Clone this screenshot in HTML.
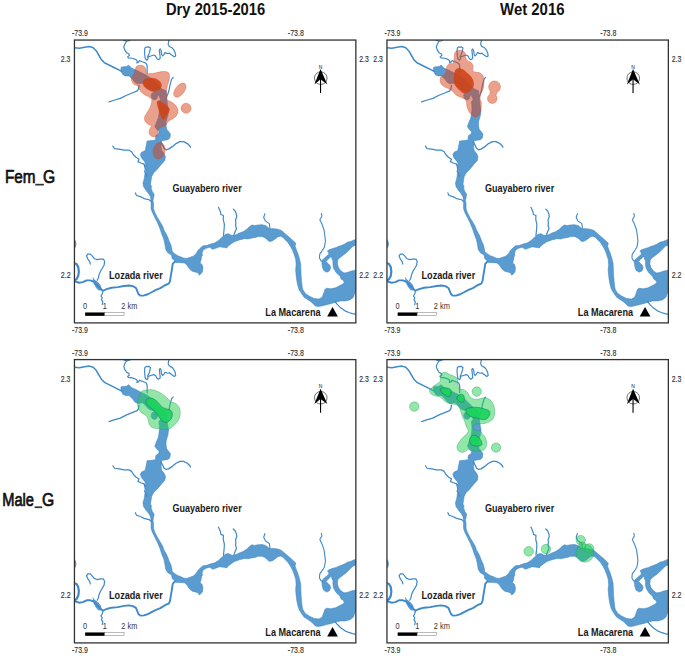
<!DOCTYPE html>
<html><head><meta charset="utf-8"><title>Map figure</title>
<style>
html,body{margin:0;padding:0;background:#fff;}
body{width:685px;height:656px;overflow:hidden;}
svg{display:block;}
text{font-family:"Liberation Sans",sans-serif;}
.title{font-size:16.5px;font-weight:bold;fill:#111;}
.row{font-size:17.6px;fill:#111;stroke:#111;stroke-width:0.7px;}
.lbl{font-size:10.2px;font-weight:bold;fill:#1a1a1a;}
.sb{font-size:9.2px;fill:#333;}
.tk{font-size:9.4px;fill:#2b2b2b;stroke:#2b2b2b;stroke-width:0.12px;}
</style></head>
<body>
<svg width="685" height="656" viewBox="0 0 685 656">
<rect width="685" height="656" fill="#fff"/>
<defs>
<clipPath id="pc"><rect x="0" y="0" width="281.4" height="282.85"/></clipPath>
<g id="river"><path d="M46.5 29.6 L47.1 32.1 L48.4 34.6 L50.9 35.9 L54.6 35.9 L55.9 37.1 L58.4 39.6 L60.3 42.2 L62.8 43.8 L65.6 43.5 L68.4 43.2 L71.7 46.5 L74 49.2 L76.9 50.5 L79.3 51.2 L81 52 L79.5 52.3 L77.8 53 L76.9 54.5 L76.8 56.5 L77.5 58.5 L79.2 59.6 L81 59.6 L82.5 58.5 L83.1 56.5 L83.2 54.6 L84.5 55.5 L86.2 59.6 L85 61 L84.4 62 L84.9 65.5 L85 69.4 L84.5 74 L83.8 78 L82.2 81.6 L80.4 86.6 L82.2 89.1 L84.7 91.6 L84.1 94.1 L81.6 95.4 L81 97.9 L81.6 99.7 L77.9 100.4 L72.6 101 L72.1 104 L71.5 106.6 L70.9 110.4 L67.1 112.2 L65.9 114.7 L67.1 117.9 L70.2 121.6 L71.5 124.7 L71 126.6 L71.6 130.4 L70.4 134.1 L69.7 139.1 L68.5 142.9 L69.1 146.6 L71.6 150.4 L74.1 153.5 L76 156.6 L76.6 160.4 L76.6 163.6 L76.6 168.6 L77.9 172.4 L80.4 177.4 L82.9 182.4 L85.4 188.3 L87.5 194.5 L89.5 199.7 L90.5 204.6 L91.3 209.5 L93.4 212.8 L97.2 215 L97.8 218.8 L100.2 220.5 L101.2 222.4 L106 222.6 L110 222.9 L112.4 224.9 L114.9 228.8 L117.8 231.2 L121.7 232.2 L124.1 233.2 L124.6 235.1 L126.1 234.1 L128 231.7 L128.5 227.8 L127.6 224.4 L125.6 222.9 L126.6 220 L127.1 216.6 L128 215.1 L127.6 213.2 L128.5 210.2 L131.5 208.3 L135.4 207.3 L138.3 209.3 L141.2 208.3 L145.1 206.8 L149.9 207.4 L152.4 208 L153 206.7 L156.1 204.2 L159.9 201.7 L164.9 199.9 L169.9 198.6 L173.6 198.9 L177.4 198 L181.1 197.4 L183.6 196.4 L187.4 196.4 L189.9 197.4 L192.4 199.2 L194.2 201.1 L196.1 201.4 L198.6 200.5 L201.1 198.6 L203.6 196.7 L206.1 196.1 L208.6 197.4 L210.9 199.9 L213.4 202.4 L215.9 206.1 L218 210 L219.8 214.6 L221.3 219.6 L221.7 224.6 L221.2 229.6 L221.6 234.6 L222.2 239.6 L223.1 244.6 L224.6 249.6 L227.1 253.4 L229.6 257.1 L233.4 259.6 L237.1 262.1 L240.9 265.9 L243.4 266.5 L247.1 265.9 L252.1 264.6 L257.1 263.4 L260.9 262.1 L265.9 260.9 L270.9 260.9 L275.9 259.6 L279 257.1 L280.2 253.4 L281.6 252 L281.6 231 L280.8 230.1 L276 231.3 L272.8 232.5 L269.6 232.9 L266.5 230.9 L264.1 227.7 L262.9 223.7 L263.3 219.8 L265.7 217.4 L268.9 215 L272 212.6 L275.2 209.4 L278.4 206.3 L281.6 204.9 L281.6 199.1 L276 201.5 L272.8 202.3 L270.4 203.9 L265.7 205.9 L264.1 206.3 L261.7 207.5 L257.7 208.6 L254.6 209.8 L253 211 L254.2 212.6 L254.4 214.3 L251.4 216.8 L248.6 219.2 L247.4 221.3 L247.8 226.1 L249 230.1 L252.2 232.1 L255 230.9 L256.2 227.7 L255.4 225.3 L253.4 223.3 L251.5 221.5 L253.5 219.5 L256.3 216.6 L257.2 216.9 L257.5 219 L258.5 220.6 L258.5 224.5 L259.3 228.5 L261.7 232.5 L264.1 234.8 L265.7 236.4 L266.5 238.8 L268.9 240.4 L269.8 242.5 L268 244.2 L264.5 246 L261 247.8 L256.5 248.7 L252.1 248.2 L250.4 249.5 L249.6 252.1 L247.7 257.1 L244.6 259 L239.6 258.4 L234.6 255.9 L230.9 253.4 L228.4 249.6 L227.8 247 L227.2 242 L226.7 236 L226.4 230 L226.2 224 L225.1 219 L223.6 214 L221.8 209.5 L220.6 206 L221.4 203.3 L217.1 199.2 L212.1 194.9 L207.1 190.5 L203.4 189.2 L199.6 188.6 L198.6 188.6 L194.9 188.6 L193.6 187.4 L191.1 185.5 L187.4 184.6 L183.6 184.9 L179.9 185.5 L177.4 184.9 L174.9 186.7 L172.4 189.2 L168.6 191.7 L164.9 193 L161.1 194.9 L158.6 195.5 L156.1 194.9 L154.2 193.6 L151.1 194.2 L148.5 196.5 L146 198.6 L144.1 200.5 L140.2 202.9 L136.3 203.9 L132.4 205.4 L128.5 205.8 L125.6 208.3 L123.2 210.7 L121.7 213.6 L118.8 216.1 L114.9 217.5 L111.9 218.5 L109 218 L106.1 216.6 L103.2 215.6 L100.2 213.6 L97.8 211.7 L97.3 208.3 L96.3 204.4 L94.9 201.5 L92.8 196 L91.6 193.6 L89.5 190 L88.2 186.1 L86 182.4 L82.9 177.4 L80.4 172.4 L79.1 168.6 L79.1 163.6 L78.5 160.4 L79.1 157.9 L79.7 154.1 L77.9 151.6 L76.6 147.9 L77.2 146.6 L76 144.1 L76.6 140.4 L77.2 136.6 L79.1 132.9 L82.9 129.1 L86.6 124.7 L90.4 120.4 L91 116.6 L89.7 113.5 L87.2 110.4 L86.6 106.6 L87.2 103.5 L86.6 101 L88.5 100.4 L93.5 99.7 L95.4 97.9 L96 94.1 L94.7 92.2 L92.2 89.1 L91.6 85.4 L91.6 81.6 L93.5 75.1 L94.1 70.1 L92.9 63.9 L92.2 56.4 L91.6 50.7 L87 48.6 L82.3 43.8 L77.3 39 L72.3 35.3 L67.5 33 L64.6 31.5 L60.9 29.6 L56.5 27.7 L55.2 25.9 L54 25.2 L52.1 26.5 L47.7 26.9 L46.5 27.4Z" fill="#5a9bd0" stroke="#3e88c7" stroke-width="0.55" stroke-linejoin="round"/>
<path d="M18.2 236.7 L20 239.5 L23.7 242.3 L26.2 245.3 L27 248.3 L26.2 250.4 L23.8 250.2 L21.4 247.5 L19.6 244.2 L18.4 240.5Z" fill="#5a9bd0"/>
<path d="M0 198.6 L1.4 201 L2 204 L1.3 207 L0 208.6Z" fill="#5a9bd0"/>
<path d="M0.2 7.7 L5 8.1 L10 7.1 L15 6.5 L18.8 7.7 L21.9 10.9 L24.4 15.2 L26.9 19.6 L30 22.7 L35 25.2 L40 27.7 L44.4 29.9 L47.5 31.5" fill="none" stroke="#3f89c9" stroke-width="1.5" stroke-linejoin="round" stroke-linecap="round"/>
<path d="M64.5 45.5 L64 49 L62.7 50.9 L58.4 52.7 L52.1 55.2 L45.9 58.4 L39.6 60.2 L34.6 61.9" fill="none" stroke="#3f89c9" stroke-width="1.3" stroke-linejoin="round" stroke-linecap="round"/>
<path d="M98.7 37.4 L97.2 39 L96.2 42.5 L95.4 45.5 L94.4 51 L93 55 L92 57" fill="none" stroke="#3f89c9" stroke-width="1.2" stroke-linejoin="round" stroke-linecap="round"/>
<path d="M86.6 101.6 L87.2 103.5 L88.5 106 L89.7 108.5 L91.6 109.7 L94.1 109.1 L97.9 106.6 L101.6 103.5 L105.4 101.6 L109.1 101.6 L112.9 103.5 L115.4 106 L116 107.2" fill="none" stroke="#3f89c9" stroke-width="1.3" stroke-linejoin="round" stroke-linecap="round"/>
<path d="M38.4 106 L40.2 108.5 L44.6 109.1 L49.6 110.1 L54.6 110.1 L57.1 111.6 L59 114.7 L61.5 117.2 L64.6 119.1 L63.4 121.6 L66.5 122.9 L69.6 124.1 L71.5 126" fill="none" stroke="#3f89c9" stroke-width="1.2" stroke-linejoin="round" stroke-linecap="round"/>
<path d="M69.6 124.1 L70.9 129.1 L70.2 131.6 L72.1 134.7 L72.7 136.6" fill="none" stroke="#3f89c9" stroke-width="1.2" stroke-linejoin="round" stroke-linecap="round"/>
<path d="M60.9 152.9 L62.1 155.4 L65.9 156.6 L69.6 158.5 L74.6 159.7 L77.1 161.6" fill="none" stroke="#3f89c9" stroke-width="1.2" stroke-linejoin="round" stroke-linecap="round"/>
<path d="M149 195.5 L149.7 188.7 L149.9 184.1 L148.8 179.6 L149 175.5 L146.5 174.5 L146 171.8 L144 167.2" fill="none" stroke="#3f89c9" stroke-width="1.2" stroke-linejoin="round" stroke-linecap="round"/>
<path d="M159.3 195.5 L160.7 191.5 L162 188.7 L161.1 185.1 L161.4 182.8 L161.1 179.6 L162.3 176.8 L162 174.1 L160.7 170.9 L158.8 169.1" fill="none" stroke="#3f89c9" stroke-width="1.2" stroke-linejoin="round" stroke-linecap="round"/>
<path d="M195.5 188.5 L194.9 183.6 L191.1 181.1 L189.2 177.4 L190.5 173.6" fill="none" stroke="#3f89c9" stroke-width="1.1" stroke-linejoin="round" stroke-linecap="round"/>
<path d="M246.9 173.4 L247.4 176.1 L245.4 179.6 L247.5 184 L249.6 190 L250.4 196 L251 201 L250 207 L247.5 211 L245.3 214 L245 218 L246.5 220.8 L248.5 221.2" fill="none" stroke="#3f89c9" stroke-width="1.1" stroke-linejoin="round" stroke-linecap="round"/>
<path d="M100.4 221.5 L98.3 223.9 L97.4 229.7 L96.4 235.6 L95.5 241.3 L94.3 243.6 L90.5 245.2 L85.9 248.1 L81.6 249.8 L77.1 252.2 L73.4 254.2 L69.6 255.4 L65.9 255.6 L64 254 L62.7 250.9 L61.5 247.9 L58.4 246.1 L54.6 245.4 L49.6 245.9 L43.4 247.1 L37.1 247.7 L32.1 249 L28.4 250.7 L25.9 248.4 L22.7 245.2 L20.9 243.4 L19 241.5 L15.9 240.3 L12.1 240.3 L8.4 242.1 L4.6 242.7 L0 241" fill="none" stroke="#3f89c9" stroke-width="1.9" stroke-linejoin="round" stroke-linecap="round"/>
<path d="M0 223.2 L2.1 224 L3.8 227.1 L4.4 231.5 L3.8 235.9 L2.1 239 L0 240.4" fill="none" stroke="#3f89c9" stroke-width="2.2" stroke-linejoin="round" stroke-linecap="round"/>
<path d="M15.9 224 L15.2 221.5 L13.4 219 L12.1 215.9 L13.4 214 L15.9 214 L17.7 215.9 L19.6 218.4 L22.7 219.6 L25.9 219 L29 219 L30.2 221.5 L29.6 225.2 L27.7 228.4 L25.9 231.5 L24.6 234.6 L24 237.7 L22.7 240.2" fill="none" stroke="#3f89c9" stroke-width="1.2" stroke-linejoin="round" stroke-linecap="round"/>
<path d="M28.4 251.5 L27.7 254 L26.5 255.9 L27.7 257.7 L27.1 259.6 L28.4 262.1 L27.7 264.6" fill="none" stroke="#3f89c9" stroke-width="1.2" stroke-linejoin="round" stroke-linecap="round"/>
<path d="M260.6 261.5 L263 264.5 L266.5 268 L270.5 270.8 L274.4 272.4 L278 273.6 L281.6 274.4" fill="none" stroke="#3f89c9" stroke-width="1.2" stroke-linejoin="round" stroke-linecap="round"/>
<path d="M49.3 0.3 L52.6 1.2 L55.5 0.3" fill="none" stroke="#3f89c9" stroke-width="1.2" stroke-linejoin="round" stroke-linecap="round"/>
<path d="M52.1 1.2 L50.3 4.2 L49.3 7 L50.3 9.8 L52.1 12.6 L54.5 14 L54.9 15.4 L53.1 16.8 L54 17.8 L57.7 18.2 L61.5 19.6 L62.9 21 L62.4 22.9 L63.8 22.4 L65.2 20.6 L67.1 21.5 L69.9 22.4 L71.8 23.4 L72.7 25.7 L72.7 29.4 L72.7 33" fill="none" stroke="#3f89c9" stroke-width="1.2" stroke-linejoin="round" stroke-linecap="round"/>
<path d="M72.7 20.1 L70.8 18.7 L70.4 15.4 L70.1 11.7 L70.4 7.9 L71.8 7 L74.6 6.8 L76 7.9 L75.5 10.7 L74.6 13.6 L73.2 16.4 L73.6 18.2 L72.7 20.1" fill="none" stroke="#3f89c9" stroke-width="1.2" stroke-linejoin="round" stroke-linecap="round"/>
<path d="M73.6 16.8 L76.4 15.9 L79.2 15 L81.1 15.9 L82.5 18.7 L83.9 19.6 L85.8 18.2 L85.3 13.6 L84.9 9.8 L85.8 8.9 L86.7 10.7 L87.2 14.5 L88.1 15.9 L89.5 14.5 L90.5 12.6 L91.9 13.1 L93.3 13.6 L95.1 13.1 L96.5 14.5 L97.9 15.4 L99.8 16.8 L101.2 15.9 L100.7 12.6 L99.3 9.8 L97.9 8 L96.1 7 L94.7 6.1 L93.7 4.2 L94.2 1.4 L94.7 0" fill="none" stroke="#3f89c9" stroke-width="1.2" stroke-linejoin="round" stroke-linecap="round"/></g>
<g id="furn"><text x="98.1" y="152.3" class="lbl" textLength="69.1" lengthAdjust="spacingAndGlyphs">Guayabero river</text>
<text x="34.6" y="239.1" class="lbl" textLength="53.7" lengthAdjust="spacingAndGlyphs">Lozada river</text>
<text x="190.9" y="275.7" class="lbl" textLength="55.2" lengthAdjust="spacingAndGlyphs">La Macarena</text>
<path d="M258.1 267 L263.5 276.4 L252.7 276.4Z" fill="#000"/>
<rect x="10.7" y="272.4" width="19.6" height="3.4" fill="#000"/>
<rect x="30.3" y="272.6" width="19.3" height="3.0" fill="#fff" stroke="#666" stroke-width="0.45"/>
<g transform="translate(10.65 269.3) scale(0.8 1)"><text x="0" y="0" class="sb" text-anchor="middle">0</text></g>
<g transform="translate(30.25 269.3) scale(0.8 1)"><text x="0" y="0" class="sb" text-anchor="middle">1</text></g>
<g transform="translate(46.9 269.3) scale(0.8 1)"><text x="0" y="0" class="sb">2 km</text></g>
<g><circle cx="246.3" cy="38.1" r="6.3" fill="none" stroke="#333" stroke-width="0.7"/><path d="M246.1 29 L252.9 44.4 L246.1 39.3 L239.9 44.4Z" fill="#000"/><line x1="246.1" y1="39" x2="246.1" y2="53" stroke="#000" stroke-width="1.1"/><text x="246.2" y="28.5" font-size="5" text-anchor="middle" font-family="Liberation Sans, sans-serif" fill="#111">N</text></g>
<rect x="0" y="0" width="281.4" height="282.85" fill="none" stroke="#333" stroke-width="1.3"/></g>
<g id="ticks"><text x="-2.4" y="-3.8" class="tk" textLength="15.8" lengthAdjust="spacingAndGlyphs">-73.9</text>
<text x="213.4" y="-3.8" class="tk" textLength="16" lengthAdjust="spacingAndGlyphs">-73.8</text>
<text x="-2.4" y="292.8" class="tk" textLength="15.8" lengthAdjust="spacingAndGlyphs">-73.9</text>
<text x="213.4" y="292.8" class="tk" textLength="16" lengthAdjust="spacingAndGlyphs">-73.8</text>
<text x="-13.6" y="22.3" class="tk" textLength="9.6" lengthAdjust="spacingAndGlyphs">2.3</text>
<text x="-13.6" y="237.6" class="tk" textLength="9.8" lengthAdjust="spacingAndGlyphs">2.2</text>
<text x="284.8" y="22.3" class="tk" textLength="9.6" lengthAdjust="spacingAndGlyphs">2.3</text>
<text x="284.8" y="237.6" class="tk" textLength="9.8" lengthAdjust="spacingAndGlyphs">2.2</text></g>
</defs>
<g transform="translate(74.45 40.05)">
<g clip-path="url(#pc)">
<use href="#river"/>
<path d="M61.6 27 C62.1 26.2 62.8 25.7 63.8 25.4 C64.8 25.1 66.6 25.1 67.7 25.4 C68.8 25.7 69.7 26.2 70.3 27 C70.9 27.8 71.2 29 71.5 30 C71.8 31 71.4 32.4 71.8 33 C72.2 33.6 72.6 33.6 73.8 33.6 C75 33.6 77.4 33.4 79.1 33.2 C80.8 33 82.3 32.6 83.7 32.3 C85.1 32 86.2 31.6 87.5 31.5 C88.8 31.4 90.2 31.2 91.3 31.5 C92.4 31.8 93.7 32.1 94.3 33 C94.9 33.9 95.1 35.5 95.1 36.9 C95.1 38.3 94.7 39.9 94.3 41.4 C93.9 42.9 93.2 44.5 92.8 46 C92.4 47.5 92.2 49.1 92.1 50.6 C92 52.1 92.1 53.6 92.2 55.1 C92.3 56.6 92 58.7 92.6 59.7 C93.2 60.7 94.5 60.6 95.6 61.2 C96.7 61.8 98.2 62.5 99.4 63.5 C100.6 64.5 101.8 66 102.5 67.3 C103.2 68.6 103.6 69.8 103.6 71.1 C103.6 72.4 103.2 73.8 102.5 74.9 C101.8 76.1 100.6 77.1 99.4 78 C98.2 78.9 96.7 79.5 95.6 80.3 C94.5 81.1 93.3 82.1 92.6 82.9 C91.9 83.7 92.1 84.7 91.4 85.3 C90.7 85.9 89.6 85.9 88.5 86.4 C87.4 86.9 85.6 87.6 84.8 88.2 C84 88.8 83.6 89.4 83.4 90.2 C83.2 91 83.9 92.3 83.8 93.2 C83.7 94.1 83.3 94.9 82.7 95.5 C82.1 96.1 80.9 96.5 80 96.6 C79.1 96.7 78.1 96.7 77.3 96.3 C76.5 95.9 75.4 94.9 75 94 C74.6 93.1 74.6 91.9 74.7 90.9 C74.8 89.9 75.4 88.8 75.8 87.9 C76.2 87 77.3 86.2 76.9 85.6 C76.5 85 74.6 84.9 73.5 84.1 C72.4 83.3 71.1 82.2 70.5 81 C69.9 79.8 69.8 78.5 70.1 77.2 C70.3 75.9 71.2 74.8 72 73.4 C72.8 72 74.2 70.5 75 68.8 C75.8 67.1 76.5 65 76.9 63.5 C77.3 62 77.6 60.6 77.2 59.5 C76.8 58.4 75.2 57.5 74.3 56.8 C73.3 56.1 72.4 55.9 71.5 55.4 C70.6 54.9 69.6 54.2 68.8 53.6 C68 53 67.1 52.5 66.5 51.8 C65.9 51.1 65.5 50.3 65.1 49.5 C64.7 48.7 64.6 47.4 64.2 46.8 C63.8 46.1 63.3 46 62.5 45.6 C61.7 45.2 60.3 44.9 59.5 44.2 C58.7 43.6 58 42.5 57.6 41.7 C57.2 40.9 56.9 40.4 56.9 39.5 C56.9 38.6 57.2 37.5 57.6 36.5 C58 35.5 59 34.6 59.5 33.5 C60 32.4 60.4 31.1 60.8 30 C61.1 28.9 61.1 27.8 61.6 27Z" fill="rgba(215,65,25,0.5)" stroke="rgba(205,70,30,0.55)" stroke-width="0.6"/>
<ellipse cx="105.4" cy="50.1" rx="8.2" ry="4.5" transform="rotate(-52 105.4 50.1)" fill="rgba(215,65,25,0.5)" stroke="rgba(205,70,30,0.55)" stroke-width="0.6"/>
<circle cx="111.6" cy="68.2" r="5" fill="rgba(215,65,25,0.5)" stroke="rgba(205,70,30,0.55)" stroke-width="0.6"/>
<ellipse cx="84.6" cy="110.6" rx="5.9" ry="8.2" transform="rotate(12 84.6 110.6)" fill="rgba(215,65,25,0.5)" stroke="rgba(205,70,30,0.55)" stroke-width="0.6"/>
<path d="M70.4 38.9 C71.6 38.1 73.7 37.7 75.4 37.6 C77.1 37.5 78.9 37.7 80.4 38.2 C82 38.7 83.6 39.7 84.7 40.7 C85.8 41.8 87 43.1 87.2 44.5 C87.4 45.9 86.8 47.9 86 48.9 C85.2 49.9 83.5 50.3 82.2 50.7 C80.9 51.1 79.4 51.6 77.9 51.4 C76.5 51.2 74.9 50.3 73.5 49.5 C72.1 48.7 70.5 47.5 69.7 46.4 C68.9 45.2 68.4 43.9 68.5 42.6 C68.6 41.4 69.2 39.7 70.4 38.9Z" fill="rgba(205,68,25,0.9)"/>
<path d="M82.7 61.2 C83.2 60.5 84.6 60.4 85.7 60.8 C86.8 61.2 88.2 62.5 89.5 63.5 C90.8 64.5 92.3 65.5 93.3 66.5 C94.2 67.5 95 68.3 95.2 69.2 C95.4 70.1 94.9 71 94.5 71.9 C94.1 72.9 93.3 73.8 92.6 74.9 C91.9 76 90.9 77.9 90.3 78.7 C89.7 79.5 89.3 79.6 88.8 79.5 C88.3 79.4 87.7 78.9 87.2 78 C86.7 77.1 86.2 75.6 85.7 74.2 C85.2 72.8 84.7 71.1 84.2 69.6 C83.7 68.1 83 66.4 82.7 65 C82.5 63.6 82.2 61.9 82.7 61.2Z" fill="rgba(205,68,25,0.9)"/>
</g>
<use href="#furn"/>
<use href="#ticks"/>
</g>
<g transform="translate(386.95 40.05)">
<g clip-path="url(#pc)">
<use href="#river"/>
<path d="M67.5 13.9 C67.7 13.1 68.1 12 68.8 11.4 C69.5 10.8 70.8 10.2 71.9 10.1 C73.1 10 74.7 10.2 75.7 10.7 C76.8 11.2 77.7 12 78.2 13.2 C78.7 14.3 78.4 16.4 78.8 17.6 C79.2 18.9 79.8 19.9 80.7 20.7 C81.6 21.5 83.5 21.7 84.4 22.6 C85.3 23.6 86.1 25.1 86.3 26.4 C86.5 27.6 85.4 29.2 85.7 30.1 C86 31 87.1 31.6 88.2 32 C89.3 32.4 91.2 32.1 92.5 32.6 C93.8 33.1 95 34.1 95.7 35.1 C96.4 36.1 96.7 37.2 96.9 38.9 C97.1 40.6 97.1 43.2 96.9 45.1 C96.7 47 96.2 48.6 95.7 50.1 C95.2 51.6 94.2 52.4 93.8 53.9 C93.4 55.4 93.1 57.4 93.2 58.9 C93.3 60.4 94.3 60.7 94.4 62.6 C94.5 64.5 94.2 68 93.8 70.1 C93.4 72.2 92.8 73.9 91.9 75.1 C91 76.2 89.4 77 88.2 77 C87 77 86 76 85 75.1 C84 74.2 82.7 72.9 81.9 71.4 C81.1 70 80.4 68.1 80 66.4 C79.6 64.7 79.8 62.6 79.4 61.4 C79 60.1 78.5 59.6 77.5 58.9 C76.5 58.2 74.5 57.6 73.2 57 C71.9 56.4 70.5 55.8 69.4 55.1 C68.4 54.4 67.7 53.4 66.9 52.6 C66.1 51.8 65.4 50.8 64.4 50.1 C63.4 49.4 62 48.8 60.7 48.2 C59.5 47.6 58 47.2 56.9 46.4 C55.8 45.6 54.4 44.5 53.8 43.2 C53.2 42 53.1 40 53.2 38.9 C53.3 37.8 53.6 37.2 54.4 36.4 C55.2 35.6 57.4 34.9 58.2 33.9 C59 32.9 59.1 31.4 59.4 30.1 C59.7 28.9 59.5 27.4 60 26.4 C60.5 25.4 61.5 24.4 62.5 23.9 C63.5 23.4 65.6 23.9 66.3 23.3 C67 22.7 66.7 21.2 66.9 20.1 C67.1 19 67.4 17.4 67.5 16.4 C67.6 15.4 67.3 14.7 67.5 13.9Z" fill="rgba(215,65,25,0.5)" stroke="rgba(205,70,30,0.55)" stroke-width="0.6"/>
<path d="M103 52.6 L103 53.9 L102.9 54.4 L101.9 55.2 L101.5 55.7 L100.9 56.7 L100.7 57.3 L100.5 58.6 L100.7 59.8 L100.9 60.5 L101.5 61.5 L101.9 62 L102.9 62.7 L103.5 63 L104.6 63.4 L105.3 63.4 L106.5 63.2 L107.2 63 L108.3 62.4 L109.1 61.6 L109.7 60.5 L109.9 59.8 L110.1 58.6 L110.1 57.9 L109.7 56.8 L109.2 55.8 L109.1 55.4 L109.2 55 L109.7 53.8 L109.9 52.6 L110.1 52.2 L111.2 51.5 L111.8 50.9 L112.3 50.4 L113 49.1 L113.3 48.4 L113.4 47.6 L113.5 46.8 L113.5 46.1 L113.3 45.3 L113.1 44.6 L112.7 43.9 L112.3 43.2 L111.7 42.6 L111.2 42.1 L109.9 41.4 L109.1 41.1 L107.6 40.9 L106.8 41 L105.4 41.3 L104.6 41.7 L103.5 42.6 L102.9 43.2 L102.2 44.5 L101.9 45.2 L101.8 46 L101.7 46.8 L101.9 48.3 L102.1 49 L102.5 49.8 L103.3 51 L103.3 51.4Z" fill="rgba(215,65,25,0.5)" stroke="rgba(205,70,30,0.55)" stroke-width="0.6"/>
<path d="M68.2 30.1 C69 28.5 70.6 28.3 71.9 28.2 C73.2 28.1 74.8 28.7 76.3 29.5 C77.8 30.3 79.2 31.9 80.7 33.2 C82.2 34.6 84 36 85 37.6 C86 39.2 86.7 41 86.9 42.6 C87.1 44.2 86.8 45.8 86.3 47 C85.8 48.2 84.8 49.2 83.8 50.1 C82.8 51 81.2 52.1 80 52.6 C78.8 53.1 77.4 53.5 76.3 53.2 C75.2 52.9 74.2 51.6 73.2 50.7 C72.2 49.8 71 48.7 70 47.6 C69 46.5 68 45.6 67.5 43.9 C67 42.2 66.8 39.9 66.9 37.6 C67 35.3 67.4 31.7 68.2 30.1Z" fill="rgba(205,68,25,0.9)"/>
</g>
<use href="#furn"/>
<use href="#ticks"/>
</g>
<g transform="translate(74.45 359.6) scale(1 1.0016)">
<g clip-path="url(#pc)">
<use href="#river"/>
<path d="M67.5 31.5 C68.9 30.4 71.1 30.6 72.8 30.4 C74.5 30.1 75.8 29.8 77.4 30 C79.1 30.2 80.9 30.8 82.7 31.5 C84.5 32.2 86.3 33.4 88 34.5 C89.7 35.6 91.2 37.1 92.6 38.4 C94 39.7 95 41.3 96.4 42.2 C97.8 43.1 99.7 43 101 43.7 C102.3 44.5 103.2 45.6 104 46.7 C104.8 47.9 105.3 49.1 105.6 50.6 C105.9 52.1 105.9 54.2 105.6 55.9 C105.3 57.5 104.8 59.1 104 60.5 C103.2 61.9 102 63.2 101 64.3 C100 65.4 98.9 66.5 97.9 67.3 C96.9 68.1 96 68.8 94.9 69.2 C93.8 69.7 92.4 69.9 91.1 70 C89.8 70.1 88.7 69.8 87.3 69.6 C85.9 69.4 84.2 69 82.7 68.8 C81.2 68.5 79.4 68.7 78.1 68.1 C76.8 67.5 75.8 66.2 75.1 65 C74.4 63.9 74.3 62.5 73.9 61.2 C73.5 59.9 73.4 58.4 72.8 57.4 C72.2 56.4 71.5 55.9 70.5 55.1 C69.5 54.3 67.7 53.7 66.7 52.8 C65.7 51.9 65 50.9 64.4 49.8 C63.8 48.7 63.5 47.3 63.3 46 C63.1 44.7 63.1 43.7 63.3 42.2 C63.5 40.7 63.7 38.6 64.4 36.8 C65.1 35 66.1 32.6 67.5 31.5Z" fill="rgba(35,205,81,0.5)" stroke="rgba(30,150,100,0.6)" stroke-width="0.6"/>
<path d="M71.6 40.6 C71.9 39.7 72.8 39.1 73.6 38.7 C74.4 38.3 75.6 38.3 76.6 38.4 C77.6 38.5 78.6 38.9 79.6 39.5 C80.6 40.1 81.8 41 82.7 41.8 C83.6 42.6 84.1 43.5 85 44.5 C85.9 45.5 87 46.8 88 47.5 C89 48.2 89.9 48.6 91.1 49 C92.2 49.4 93.9 49.3 94.9 49.8 C95.9 50.2 96.7 50.9 97.2 51.7 C97.7 52.5 97.9 53.6 97.9 54.7 C97.9 55.8 97.7 57.1 97.2 58.2 C96.7 59.3 95.8 60.4 94.9 61.2 C94 62 92.9 62.7 91.9 62.8 C90.9 62.9 89.7 62.5 88.8 62 C87.9 61.5 87.2 60.9 86.5 60.1 C85.8 59.3 85.2 58.4 84.6 57.4 C84 56.4 83.4 55.3 82.7 54.4 C82 53.5 81.3 52.6 80.4 51.7 C79.5 50.8 78.4 49.8 77.4 49 C76.4 48.2 75.2 47.5 74.3 46.7 C73.4 45.9 72.5 45.1 72 44.1 C71.5 43.1 71.3 41.5 71.6 40.6Z" fill="rgba(25,212,92,0.9)" stroke="rgba(20,110,80,0.85)" stroke-width="0.6"/>
</g>
<use href="#furn"/>
<use href="#ticks"/>
</g>
<g transform="translate(386.95 359.6) scale(1 1.0016)">
<g clip-path="url(#pc)">
<use href="#river"/>
<path d="M54.1 14.4 C54.9 13.7 56.4 12.4 57.9 12.5 C59.4 12.6 61.2 14.3 62.9 15 C64.6 15.7 66.7 16.2 67.9 16.9 C69.2 17.6 69.9 18.1 70.4 19.4 C70.9 20.6 70.7 22.8 71 24.4 C71.3 25.9 71.3 27.8 72.3 28.7 C73.2 29.6 75.3 29.4 76.7 30 C78.1 30.6 79.4 31.4 80.4 32.5 C81.4 33.6 81.9 35.8 82.9 36.9 C84 38 85.2 39 86.7 39.4 C88.2 39.8 90 39.6 91.7 39.4 C93.4 39.2 95.2 38.2 96.7 38.1 C98.2 38 99.2 38.2 100.4 38.7 C101.7 39.2 103.2 40.1 104.2 41.2 C105.2 42.4 106.1 43.8 106.7 45.6 C107.3 47.4 107.9 49.8 107.9 51.9 C107.9 54 107.5 56.4 106.7 58.1 C105.9 59.8 104.4 61 102.9 61.9 C101.4 62.8 99.6 63.3 97.9 63.7 C96.2 64.1 94.7 64.1 93 64.2 C91.3 64.3 89.1 63.8 88 64.2 C86.9 64.6 86.6 65.6 86.4 66.5 C86.2 67.4 86.6 68.8 87 69.5 C87.4 70.2 88 70.7 89 71 C90 71.3 92.2 70.6 93.2 71.1 C94.2 71.5 94.2 72.8 94.9 73.7 C95.6 74.6 96.9 75.2 97.6 76.4 C98.3 77.6 98.9 79.2 99.3 80.7 C99.7 82.2 99.9 83.8 99.8 85.1 C99.7 86.4 99.1 87.6 98.4 88.6 C97.7 89.5 96.8 90.3 95.8 90.8 C94.8 91.2 93.6 91.2 92.3 91.3 C91 91.4 89.4 91.4 87.9 91.3 C86.5 91.2 84.8 90.7 83.6 90.4 C82.4 90.1 81.8 89.3 80.9 89.5 C80 89.7 79.3 91.2 78.3 91.7 C77.3 92.2 75.9 92.7 74.8 92.6 C73.7 92.5 72.5 92.1 71.7 91.3 C70.9 90.5 70.1 89 70 87.8 C69.9 86.6 70.2 85.6 70.9 84.3 C71.6 83 72.8 81.2 73.9 79.9 C75 78.6 76.2 77.6 77.4 76.4 C78.6 75.2 80.3 74 80.9 72.9 C81.5 71.8 81.3 71.1 81 70 C80.7 68.9 79.8 68.1 79.2 66.5 C78.6 64.9 77.9 62.2 77.3 60.6 C76.7 59 75.9 58.1 75.4 56.9 C74.9 55.6 74.6 54.4 74.2 53.1 C73.8 51.9 73.5 50.6 72.9 49.4 C72.3 48.1 71.7 46.4 70.4 45.6 C69.2 44.8 67.1 44.8 65.4 44.4 C63.7 44 61.9 43.7 60.4 43.1 C58.9 42.5 57.7 41.4 56.7 40.6 C55.7 39.8 55 38.7 54.2 38.1 C53.4 37.5 52.8 37.2 51.7 36.9 C50.7 36.6 49.1 36.6 47.9 36.2 C46.6 35.8 45.1 35.2 44.2 34.4 C43.3 33.6 42.6 32.1 42.6 31.2 C42.6 30.2 43.3 29.6 44.2 28.7 C45.1 27.8 46.6 26.5 47.9 25.6 C49.1 24.7 50.8 23.9 51.7 23.1 C52.6 22.3 53.3 21.6 53.5 20.6 C53.7 19.6 52.8 17.9 52.9 16.9 C53 15.9 53.3 15.1 54.1 14.4Z" fill="rgba(35,205,81,0.5)" stroke="rgba(30,150,100,0.6)" stroke-width="0.6"/>
<circle cx="27.3" cy="46.9" r="4.7" fill="rgba(35,205,81,0.5)" stroke="rgba(30,150,100,0.6)" stroke-width="0.6"/>
<circle cx="89.8" cy="31.9" r="4.7" fill="rgba(35,205,81,0.5)" stroke="rgba(30,150,100,0.6)" stroke-width="0.6"/>
<circle cx="109.1" cy="87.9" r="4.7" fill="rgba(35,205,81,0.5)" stroke="rgba(30,150,100,0.6)" stroke-width="0.6"/>
<circle cx="141.7" cy="191.5" r="4.8" fill="rgba(35,205,81,0.5)" stroke="rgba(30,150,100,0.6)" stroke-width="0.6"/>
<circle cx="159.0" cy="189.2" r="4.8" fill="rgba(35,205,81,0.5)" stroke="rgba(30,150,100,0.6)" stroke-width="0.6"/>
<circle cx="193.8" cy="180.2" r="4.7" fill="rgba(35,205,81,0.5)" stroke="rgba(30,150,100,0.6)" stroke-width="0.6"/>
<circle cx="202.3" cy="188.5" r="4.7" fill="rgba(35,205,81,0.5)" stroke="rgba(30,150,100,0.6)" stroke-width="0.6"/>
<circle cx="197.9" cy="193.3" r="9.0" fill="rgba(35,205,81,0.5)" stroke="rgba(30,150,100,0.6)" stroke-width="0.6"/>
<circle cx="195.5" cy="185.5" r="3.5" fill="rgba(35,205,81,0.5)" stroke="rgba(30,150,100,0.6)" stroke-width="0.6"/>
<path d="M53.5 29.4 C53.8 28.6 55.3 28.2 56.7 28.1 C58.1 28 60.5 28.2 61.7 28.7 C63 29.2 63.9 30 64.2 31.2 C64.5 32.4 64 34.6 63.5 35.6 C63 36.6 61.9 37 61 36.9 C60.1 36.8 58.9 35.6 57.9 35 C56.9 34.4 55.5 34 54.8 33.1 C54.1 32.2 53.2 30.2 53.5 29.4Z" fill="rgba(25,212,92,0.9)" stroke="rgba(20,110,80,0.85)" stroke-width="0.6"/>
<path d="M69.8 38.1 C70.1 37.2 71.9 35.5 72.9 35 C73.9 34.5 75.3 34.5 76 35 C76.7 35.5 77.2 37 77.3 38.1 C77.4 39.2 77.2 41.2 76.7 41.9 C76.2 42.6 75.2 42.7 74.2 42.5 C73.2 42.3 71.7 41.3 71 40.6 C70.3 39.9 69.5 39 69.8 38.1Z" fill="rgba(25,212,92,0.9)" stroke="rgba(20,110,80,0.85)" stroke-width="0.6"/>
<path d="M79.2 49.4 C79.7 48.5 81.5 48.4 82.9 48.1 C84.4 47.8 86.2 47.5 87.9 47.5 C89.6 47.5 91.2 47.8 92.9 48.1 C94.6 48.4 96.3 48.9 97.9 49.4 C99.5 49.9 101.5 50.4 102.3 51.2 C103.1 52 103.1 53.2 102.9 54.4 C102.7 55.5 101.9 57.2 101 58.1 C100.1 59 98.6 59.8 97.3 60 C96 60.2 94.2 59.7 92.9 59.4 C91.6 59.1 90.5 58.4 89.2 58.1 C88 57.8 86.5 57.8 85.4 57.5 C84.4 57.2 83.8 57.1 82.9 56.5 C82 55.9 80.4 54.9 79.8 53.7 C79.2 52.5 78.7 50.3 79.2 49.4Z" fill="rgba(25,212,92,0.9)" stroke="rgba(20,110,80,0.85)" stroke-width="0.6"/>
<path d="M83.1 78.1 C83.5 77.3 84.5 76.3 85.3 75.9 C86.1 75.5 87 75.3 87.9 75.5 C88.9 75.7 90 76.3 91 77.2 C92 78.1 93.4 79.5 94.1 80.7 C94.8 81.9 95.1 83.4 95 84.3 C94.9 85.2 94.5 85.7 93.6 86 C92.7 86.3 91.1 86.5 89.7 86.4 C88.3 86.3 86.4 86.1 85.3 85.6 C84.2 85.1 83.5 84.2 83.1 83.4 C82.7 82.6 82.7 81.6 82.7 80.7 C82.7 79.8 82.7 78.9 83.1 78.1Z" fill="rgba(25,212,92,0.9)" stroke="rgba(20,110,80,0.85)" stroke-width="0.6"/>
</g>
<use href="#furn"/>
<use href="#ticks"/>
</g>
<text x="215.6" y="15" class="title" text-anchor="middle" textLength="99.3" lengthAdjust="spacingAndGlyphs">Dry 2015-2016</text>
<text x="532.3" y="15" class="title" text-anchor="middle" textLength="64.5" lengthAdjust="spacingAndGlyphs">Wet 2016</text>
<text x="5.0" y="183.3" class="row" textLength="30.6" lengthAdjust="spacingAndGlyphs">Fem</text>
<rect x="35.3" y="183.8" width="8.6" height="1.7" fill="#333"/>
<text x="42.9" y="183.3" class="row" textLength="12.2" lengthAdjust="spacingAndGlyphs">G</text>
<text x="2.2" y="505.9" class="row" textLength="31.8" lengthAdjust="spacingAndGlyphs">Male</text>
<rect x="34.6" y="506.4" width="7.6" height="1.7" fill="#333"/>
<text x="41.9" y="505.9" class="row" textLength="12.2" lengthAdjust="spacingAndGlyphs">G</text>
</svg>
</body></html>
